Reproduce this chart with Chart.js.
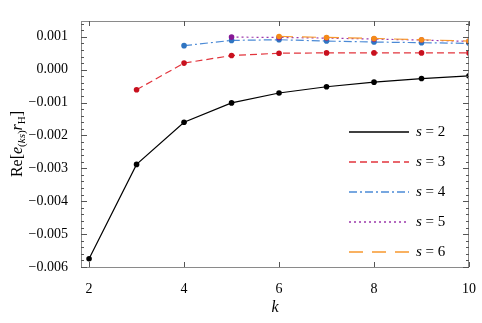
<!DOCTYPE html>
<html>
<head>
<meta charset="utf-8">
<script src="https://cdn.jsdelivr.net/npm/chart.js@4.4.1/dist/chart.umd.min.js"></script>
<style>
  body { margin: 0; background: #fff; }
  #wrap { width: 482px; height: 323px; position: relative; }
</style>
</head>
<body>
<div id="wrap"><canvas id="chart"></canvas></div>
<script>
// values
var kValues = [2, 3, 4, 5, 6, 7, 8, 9, 10];
var s2 = [-0.00575, -0.00288, -0.00160, -0.00101, -0.00071, -0.00052, -0.00038, -0.00027, -0.00019];
var s3 = [-0.00061, 0.00020, 0.00043, 0.00050, 0.00051, 0.00051, 0.00051, 0.00051];
var s4 = [0.00073, 0.00089, 0.00091, 0.00087, 0.00084, 0.00082, 0.00080];
var s5 = [0.00099, 0.00098, 0.00096, 0.00093, 0.00090, 0.00086];
var s6 = [0.00101, 0.00098, 0.00095, 0.00091, 0.00087];
var xTicks = [2, 4, 6, 8, 10];
var yTicks = [-0.006, -0.005, -0.004, -0.003, -0.002, -0.001, 0, 0.001];
var serif = "'Liberation Serif', 'DejaVu Serif', serif";

function pts(vals) {
  var start = kValues.length - vals.length;
  return vals.map(function (v, i) { return { x: kValues[start + i], y: v }; });
}

var series = [
  { label: "2", data: s2, line: "#000000", point: "#000000", dash: [], order: 5 },
  { label: "3", data: s3, line: "#e2343c", point: "#c8101e", dash: [7, 4], order: 4 },
  { label: "4", data: s4, line: "#4b8ad6", point: "#2f75c2", dash: [8, 3, 2, 3], order: 3 },
  { label: "5", data: s5, line: "#9c38ac", point: "#861896", dash: [2, 3], order: 2 },
  { label: "6", data: s6, line: "#f7982e", point: "#f58a18", dash: [14, 9], order: 1 },
];

var frame = {
  id: "frame",
  afterDraw: function (chart) {
    var ctx = chart.ctx, a = chart.chartArea;
    var xs = chart.scales.x, ys = chart.scales.y;
    ctx.save();
    ctx.strokeStyle = "#8a8a8a";
    ctx.lineWidth = 1;
    ctx.strokeRect(a.left + 0.5, a.top + 0.5, a.right - a.left - 1, a.bottom - a.top);
    ctx.strokeStyle = "#555";
    ctx.beginPath();
    xTicks.forEach(function (t) {
      var p = Math.round(xs.getPixelForValue(t)) + 0.5;
      ctx.moveTo(p, a.bottom); ctx.lineTo(p, a.bottom - 5);
      ctx.moveTo(p, a.top); ctx.lineTo(p, a.top + 5);
    });
    for (var v = -0.006; v <= 0.00148; v += 0.0002) {
      var major = Math.abs(Math.round(v * 1000) - v * 1000) < 1e-6;
      var q = Math.round(ys.getPixelForValue(v)) + 0.5;
      var len = major ? 6 : 3;
      ctx.moveTo(a.left, q); ctx.lineTo(a.left + len, q);
      ctx.moveTo(a.right, q); ctx.lineTo(a.right - len, q);
    }
    ctx.stroke();

    // legend
    var lx = 349, ly = 132;
    series.forEach(function (s, i) {
      var y = ly + i * 30;
      ctx.strokeStyle = s.line;
      ctx.lineWidth = 1.3;
      ctx.setLineDash(s.dash);
      ctx.beginPath();
      ctx.moveTo(lx, y); ctx.lineTo(lx + 60, y);
      ctx.stroke();
      ctx.setLineDash([]);
      ctx.fillStyle = "#000";
      ctx.textBaseline = "middle";
      ctx.font = "italic 15px " + serif;
      ctx.fillText("s", 416, y);
      var w = ctx.measureText("s").width;
      ctx.font = "15px " + serif;
      ctx.fillText(" = " + s.label, 416 + w, y);
    });

    // axis titles
    ctx.fillStyle = "#000";
    ctx.font = "italic 16px " + serif;
    ctx.textAlign = "center";
    ctx.textBaseline = "middle";
    ctx.fillText("k", (a.left + a.right) / 2, 308);

    ctx.translate(18, 144);
    ctx.rotate(-Math.PI / 2);
    var parts = [
      ["Re[", "16px", 0], ["e", "italic 16px", 0], ["(", "11px", 4], ["ks", "italic 11px", 4],
      [")", "11px", 4], ["r", "italic 16px", 0], ["H", "11px", 4], ["]", "16px", 0]
    ];
    var total = 0;
    parts.forEach(function (p) { ctx.font = p[1] + " " + serif; total += ctx.measureText(p[0]).width; });
    var x = -total / 2;
    ctx.textAlign = "left";
    parts.forEach(function (p) {
      ctx.font = p[1] + " " + serif;
      ctx.fillText(p[0], x, p[2]);
      x += ctx.measureText(p[0]).width;
    });
    ctx.restore();
  },
};

var chart = new Chart(document.getElementById("chart"), {
  type: "scatter",
  data: {
    datasets: series.map(function (s) {
      return {
        label: "s = " + s.label,
        data: pts(s.data),
        showLine: true,
        borderColor: s.line,
        borderWidth: 1.2,
        borderDash: s.dash,
        pointBackgroundColor: s.point,
        pointBorderColor: s.point,
        pointRadius: 2.8,
        pointBorderWidth: 0,
        order: s.order,
      };
    }),
  },
  options: {
    responsive: true,
    maintainAspectRatio: false,
    animation: false,
    layout: { padding: { top: 21, right: 10, left: 0, bottom: 0 } },
    plugins: { legend: { display: false }, tooltip: { enabled: false } },
    scales: {
      x: {
        type: "linear",
        min: 1.83,
        max: 10,
        grid: { display: false },
        border: { display: false },
        afterBuildTicks: function (s) { s.ticks = xTicks.map(function (v) { return { value: v }; }); },
        afterFit: function (s) { s.height = 56; },
        ticks: { padding: 6, color: "#000", font: { family: serif, size: 14 } },
      },
      y: {
        min: -0.006,
        max: 0.00148,
        grid: { display: false },
        border: { display: false },
        afterBuildTicks: function (s) { s.ticks = yTicks.map(function (v) { return { value: v }; }); },
        afterFit: function (s) { s.width = 81; },
        ticks: {
          padding: 5,
          color: "#000",
          font: { family: serif, size: 14 },
          callback: function (v) { return (v < 0 ? "\u2212" : "") + Math.abs(v).toFixed(3); },
        },
      },
    },
  },
  plugins: [frame],
});
</script>
</body>
</html>
